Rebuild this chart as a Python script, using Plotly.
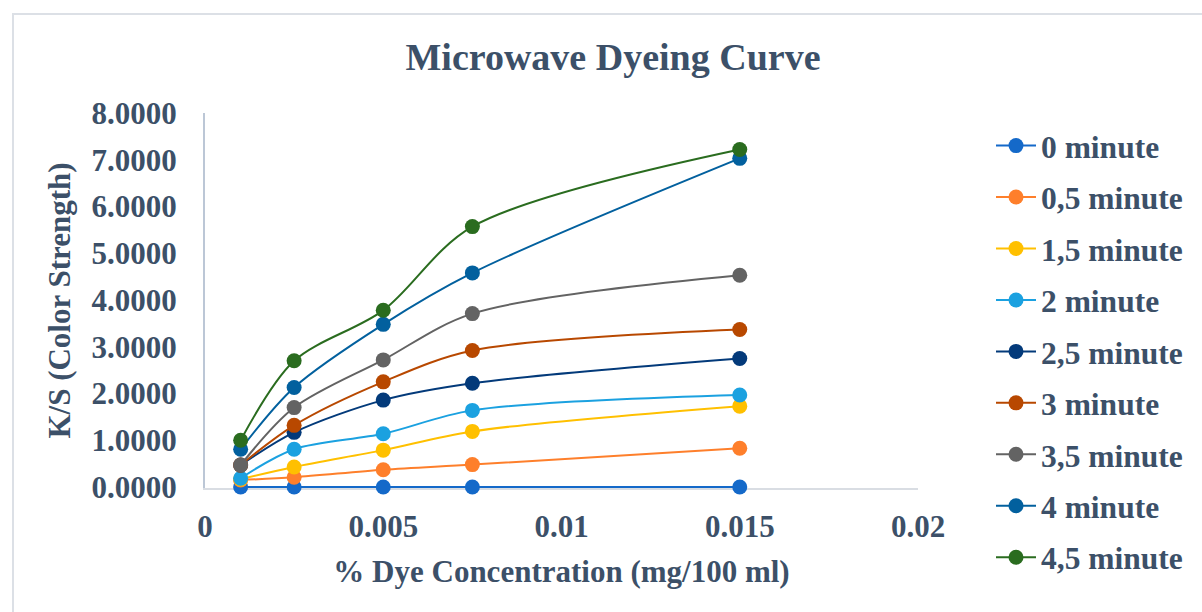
import plotly.graph_objects as go

conc = [0.001, 0.0025, 0.005, 0.0075, 0.015]
series_names = ["0 minute", "0,5 minute", "1,5 minute", "2 minute", "2,5 minute",
                "3 minute", "3,5 minute", "4 minute", "4,5 minute"]
ks_0 = [0.0, 0.0, 0.0, 0.0, 0.0]
ks_05 = [0.15, 0.21, 0.37, 0.48, 0.83]
ks_15 = [0.17, 0.43, 0.79, 1.19, 1.73]
ks_2 = [0.19, 0.81, 1.14, 1.64, 1.97]
ks_25 = [0.47, 1.17, 1.86, 2.22, 2.75]
ks_3 = [0.47, 1.32, 2.25, 2.92, 3.37]
ks_35 = [0.47, 1.70, 2.72, 3.71, 4.53]
ks_4 = [0.81, 2.13, 3.48, 4.58, 7.03]
ks_45 = [1.00, 2.70, 3.78, 5.57, 7.22]
all_series = [ks_0, ks_05, ks_15, ks_2, ks_25, ks_3, ks_35, ks_4, ks_45]
colors = ["#1469C9", "#FE7F2B", "#FFC000", "#1BA1E0", "#033A7A",
          "#B84800", "#636363", "#02609E", "#2A6C1F"]
x_tickvals = [0, 0.005, 0.01, 0.015, 0.02]
x_ticktext = ["0", "0.005", "0.01", "0.015", "0.02"]

TXT = "#3C5068"
FONT = "Liberation Serif"

fig = go.Figure()
for i, (name, ys, c) in enumerate(zip(series_names, all_series, colors)):
    fig.add_trace(go.Scatter(
        x=conc, y=ys, name=name, mode="lines+markers",
        line=dict(color=c, width=2, shape="spline", smoothing=0.9),
        marker=dict(color=c, size=15, line=dict(width=0)),
        legendgroup=f"g{i}", cliponaxis=False,
    ))

fig.update_layout(
    width=1202, height=612,
    margin=dict(l=205, r=284, t=113, b=124),
    paper_bgcolor="white", plot_bgcolor="white",
    font=dict(family=FONT, color=TXT, size=31, weight="bold"),
    title=dict(text="Microwave Dyeing Curve", x=613 / 1202, xanchor="center",
               y=1 - 57 / 612, yanchor="middle",
               font=dict(size=38, family=FONT, color=TXT, weight="bold")),
    showlegend=True,
    legend=dict(x=(991 - 205) / 713, xanchor="left", y=0.985, yanchor="top",
                font=dict(size=31.5, family=FONT, color=TXT, weight="bold"),
                traceorder="grouped", tracegroupgap=7.5, itemwidth=40,
                maxheight=600,
                bgcolor="rgba(0,0,0,0)"),
    xaxis=dict(range=[0, 0.02], tickvals=x_tickvals, ticktext=x_ticktext,
               showgrid=False, zeroline=False, showline=True,
               linecolor="#D9DDE3", linewidth=2, ticks="",
               ticklabelstandoff=10, layer="below traces",
               title=dict(text="% Dye Concentration (mg/100 ml)", standoff=17,
                          font=dict(size=31, family=FONT, color=TXT, weight="bold"))),
    yaxis=dict(range=[-0.02, 8], tickvals=[0, 1, 2, 3, 4, 5, 6, 7, 8], tickformat=".4f",
               showgrid=False, zeroline=False, showline=True,
               linecolor="#BCC7D6", linewidth=2, ticks="",
               ticklabelstandoff=20, layer="below traces",
               title=dict(text="K/S (Color Strength)", standoff=12,
                          font=dict(size=31, family=FONT, color=TXT, weight="bold"))),
    shapes=[dict(type="rect", xref="paper", yref="paper",
                 x0=(13 - 205) / 713, x1=(1230 - 205) / 713,
                 y0=(488 - 640) / 375, y1=(488 - 14) / 375,
                 line=dict(color="#DCE0E6", width=2), fillcolor="rgba(0,0,0,0)",
                 layer="below")],
)

fig.write_html("out.html")
